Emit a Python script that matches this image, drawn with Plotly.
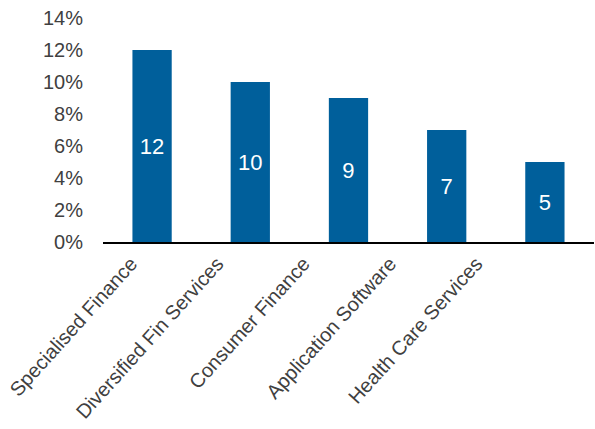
import plotly.graph_objects as go

categories = ["Specialised Finance", "Diversified Fin Services", "Consumer Finance",
              "Application Software", "Health Care Services"]
values = [12, 10, 9, 7, 5]
y_ticks = [0, 2, 4, 6, 8, 10, 12, 14]
y_tick_labels = [f"{v}%" for v in y_ticks]

fig = go.Figure(go.Bar(
    x=categories, y=values,
    text=[str(v) for v in values],
    textposition="inside", insidetextanchor="middle",
    textfont=dict(family="Liberation Sans, Arial, sans-serif", size=22, color="white"),
    marker=dict(color="#005F9B", line=dict(width=0)),
    hoverinfo="skip",
))
# invisible helper trace so the label axis is drawn
fig.add_trace(go.Scatter(x=list(range(len(categories))), y=values, xaxis="x2",
                         mode="none", hoverinfo="skip", showlegend=False))
fig.update_layout(
    width=595, height=429,
    margin=dict(l=80, r=1, t=18, b=187, autoexpand=False),
    paper_bgcolor="white", plot_bgcolor="rgba(0,0,0,0)",
    bargap=0.6, showlegend=False,
    font=dict(family="Liberation Sans, Arial, sans-serif", size=20, color="#404040"),
    xaxis=dict(domain=[0.0447, 1], showline=True, linecolor="black", linewidth=1.5,
               ticks="", showgrid=False, automargin=False, showticklabels=False),
    # label axis: category labels are spaced a little tighter than the bars
    xaxis2=dict(anchor="free", position=0, domain=[0.0153, 0.8548],
                range=[-0.5, len(categories) - 0.5],
                tickvals=list(range(len(categories))), ticktext=categories,
                tickangle=-48, ticks="", showgrid=False, zeroline=False,
                showline=False, automargin=False, ticklabelstandoff=5,
                tickfont=dict(size=20, color="#404040")),
    yaxis=dict(anchor="x", range=[0, 14], tickvals=y_ticks, ticktext=y_tick_labels,
               showgrid=False, zeroline=False, showline=False, automargin=False,
               ticks="outside", ticklen=15, tickcolor="rgba(0,0,0,0)",
               tickfont=dict(size=20, color="#404040")),
)
fig.write_html("out.html", post_script="document.body.style.margin='0';",
               config={"displayModeBar": False})
